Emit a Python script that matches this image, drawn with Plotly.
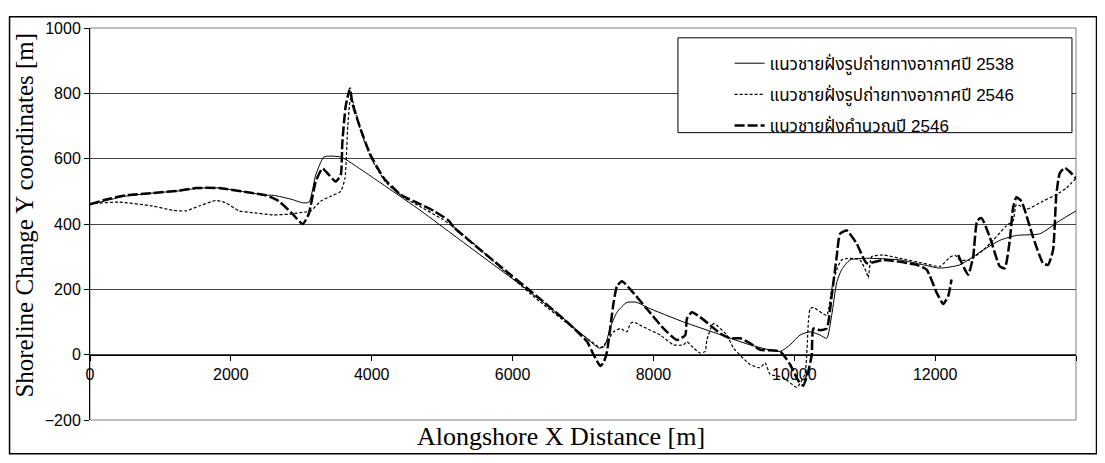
import plotly.graph_objects as go

# ----------------------- Data -----------------------
# shoreline from aerial photo, year 2538
x_2538 = [0, 200, 500, 900, 1300, 1550, 1850, 2200, 2500, 2600, 2870, 3016, 3110, 3205, 3320, 3420,
          3560, 3650, 4200, 4700, 5200, 5700, 6200, 6700, 7000, 7230, 7300, 7400, 7483, 7624, 7766,
          7908, 8428, 8900, 9373, 9800, 9940, 10082, 10224, 10366, 10460, 10531, 10602, 10673, 10791,
          11028, 11500, 11831, 12067, 12350, 12681, 12918, 13154, 13485, 13769, 14000]
y_2538 = [460, 470, 485, 495, 502, 510, 510, 498, 488, 488, 475, 465, 467, 550, 605, 608,
          605, 595, 515, 440, 360, 280, 200, 115, 60, 20, 25, 90, 130, 160, 160,
          145, 100, 65, 30, 10, 30, 60, 70, 60, 50, 120, 220, 260, 290,
          295, 290, 275, 265, 275, 320, 350, 365, 370, 410, 440]

# shoreline from aerial photo, year 2546
x_2546 = [0, 38, 416, 889, 1172, 1361, 1550, 1787, 1929, 2117, 2307, 2590, 2826, 2992, 3134, 3276,
          3418, 3560, 3620, 3660, 3700, 3740, 3850, 4000, 4200, 4450, 4700, 5000, 5200, 5500, 5850,
          6400, 6800, 7057, 7250, 7341, 7435, 7530, 7624, 7672, 7719, 7813, 7955, 8097, 8286, 8428,
          8475, 8570, 8664, 8735, 8759, 8853, 9042, 9137, 9373, 9515, 9586, 9657, 9845, 10035, 10150,
          10200, 10224, 10271, 10460, 10531, 10602, 10673, 10791, 10933, 11028, 11050, 11099, 11264,
          11500, 11831, 12067, 12209, 12280, 12350, 12492, 12681, 12823, 13013, 13107, 13154, 13296,
          13532, 13721, 13863, 14000]
y_2546 = [460, 462, 467, 455, 442, 440, 455, 472, 465, 440, 435, 428, 430, 435, 440, 470,
          485, 500, 540, 700, 785, 770, 680, 598, 528, 482, 452, 415, 385, 330, 262,
          160, 92, 50, 22, 40, 70, 80, 70, 95, 100, 90, 75, 60, 30, 30,
          40, 20, 5, 10, 45, 95, 60, 20, -30, -40, -25, -60, -70, -100, -60,
          100, 140, 145, 120, 200, 260, 290, 295, 290, 250, 235, 300, 305,
          295, 280, 270, 298, 305, 290, 290, 320, 350, 395, 410, 460, 445,
          470, 490, 510, 540]

# calculated shoreline, year 2546 (None = break in the line)
x_calc = [0, 227, 510, 893, 1262, 1503, 1830, 2212, 2496, 2680, 2879, 3020, 3105, 3205, 3300, 3394,
          3488, 3560, 3583, 3630, 3691, 3725, 3843, 3985, 4174, 4410, 4647, 4882, 5095, 5166, 5828,
          6395, 6774, 7057, 7150, 7246, 7300, 7341, 7435, 7483, 7554, 7672, 7908, 8145, 8334, 8452,
          8475, 8546, 8664, 8806, 8948, 9090, 9232, 9373, 9515, 9798, 9940, 10058, 10126, 10200, 10248,
          10271, 10366, 10460, 10531, 10602, 10650, 10744, 10886, 11028, 11264, 11737, 11879, 12021,
          12115, 12186, 12233, 12280, 12327, 12469, 12540, 12597, 12658, 12776, 12918, 12989, 13060,
          13107, 13154, 13225, 13390, 13532, 13603, 13674, 13721, 13769, 13840, 13911, 14000]
y_calc = [460, 475, 488, 495, 502, 510, 510, 498, 488, 470, 430, 400, 430, 530, 570, 550,
          530, 550, 650, 760, 815, 770, 690, 610, 540, 490, 465, 440, 410, 390, 270,
          170, 100, 40, 0, -35, -20, 10, 160, 210, 225, 200, 140, 80, 45, 60,
          110, 130, 115, 90, 65, 50, 50, 35, 15, 10, -30, -80, -95, -50, 0,
          80, 75, 80, 180, 300, 370, 380, 340, 280, 290, 275, 260, 190,
          155, 180, 230, None, 305, 245, 300, 410, 418, 360, 270, 265, 350,
          450, 482, 470, 360, 280, 275, 320, 490, 555, 572, 560, 540]

names = ['แนวชายฝั่งรูปถ่ายทางอากาศปี 2538',
         'แนวชายฝั่งรูปถ่ายทางอากาศปี 2546',
         'แนวชายฝั่งคำนวณปี 2546']

x_ticks = [0, 2000, 4000, 6000, 8000, 10000, 12000, 14000]
y_ticks = [-200, 0, 200, 400, 600, 800, 1000]

# ----------------------- Plot -----------------------
serif = 'Liberation Serif, Times New Roman, serif'
sans = 'Liberation Sans, Arial, Noto Sans Thai, sans-serif'

fig = go.Figure()
fig.add_trace(go.Scatter(x=x_2538, y=y_2538, name=names[0], mode='lines', legendgroup='a',
                         line=dict(color='black', width=1, shape='spline', smoothing=0.6)))
fig.add_trace(go.Scatter(x=x_2546, y=y_2546, name=names[1], mode='lines', legendgroup='b',
                         line=dict(color='black', width=1.2, dash='3px,2px', shape='spline', smoothing=0.5)))
fig.add_trace(go.Scatter(x=x_calc, y=y_calc, name=names[2], mode='lines', legendgroup='c',
                         connectgaps=False,
                         line=dict(color='black', width=2.5, dash='10px,3px', shape='spline', smoothing=0.5)))

# page has an 8px body margin, so the figure is a bit smaller than the window
fig.update_layout(
    width=1089, height=447,
    margin=dict(l=82, r=21, t=12, b=35),
    paper_bgcolor='white', plot_bgcolor='white',
    font=dict(family=sans, size=16, color='black'),
    showlegend=True,
    legend=dict(x=0.6487, y=0.955, xanchor='left', yanchor='top',
                bgcolor='rgba(0,0,0,0)', borderwidth=0,
                font=dict(family=sans, size=17), tracegroupgap=6),
    xaxis=dict(range=[0, 14000], tickvals=x_ticks, ticktext=[str(v) for v in x_ticks],
               showgrid=False, zeroline=False,
               showline=True, linecolor='black', linewidth=1,
               anchor='free', position=200 / 1200,
               ticks='outside', ticklen=5, tickcolor='black',
               tickfont=dict(family=sans, size=16)),
    yaxis=dict(range=[-200, 1000], tickvals=y_ticks, showgrid=True, gridcolor='#444',
               gridwidth=1, zeroline=False, showline=True, linecolor='black',
               ticks='outside', ticklen=5, tickcolor='black',
               tickfont=dict(family=sans, size=16)),
)

# plot area border, chart border and legend box
fig.add_shape(type='rect', xref='paper', yref='paper', x0=0, x1=1, y0=0, y1=1,
              line=dict(color='#808080', width=1), layer='below')
fig.add_shape(type='rect', xref='paper', yref='paper', x0=-0.0816, x1=1.0208, y0=-0.0862, y1=1.0288,
              line=dict(color='black', width=1.5))
fig.add_shape(type='rect', xref='paper', yref='paper', x0=0.5963, x1=0.9959, y0=0.733, y1=0.975,
              line=dict(color='black', width=1), fillcolor='white', layer='above')

# axis titles
fig.add_annotation(text='Alongshore X Distance [m]', xref='paper', yref='paper',
                   x=0.4777, y=-0.0425, xanchor='center', yanchor='middle',
                   showarrow=False, font=dict(family=serif, size=26))
fig.add_annotation(text='Shoreline Change Y coordinates [m]', xref='paper', yref='paper',
                   x=-0.0665, y=0.5225, xanchor='center', yanchor='middle', textangle=-90,
                   borderpad=0, showarrow=False, font=dict(family=serif, size=25))

fig.write_html('out.html')
